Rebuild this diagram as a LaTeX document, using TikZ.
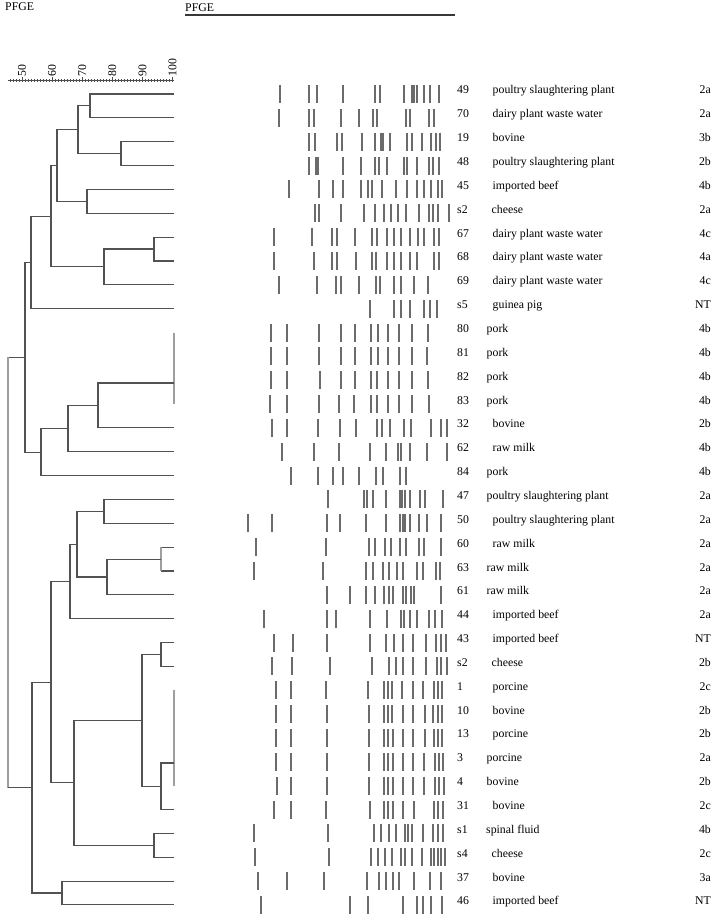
\documentclass[tikz,border=0pt]{standalone}
\usepackage{fontspec}
\setmainfont{Liberation Serif}
\begin{document}
\begin{tikzpicture}[x=1pt,y=-1pt,font=\fontsize{11.8}{13}\selectfont]
\tikzset{
  dline/.style={draw=black!68,line width=1.1pt},
  lline/.style={draw=black!38,line width=1.3pt},
  bandline/.style={draw=black!58,line width=1.7pt},
  lbl/.style={inner sep=0pt},
  tick/.style={draw=black!70,line width=0.6pt}
}
\useasboundingbox (0,0) rectangle (720,923);
% titles
\node[lbl,anchor=base west] (pfgeA) at (5,11) {PFGE};
\node[lbl,anchor=base west] (pfgeB) at (185,11.5) {PFGE};
\coordinate (barL) at (185,15.5);
\coordinate (barR) at (455,15.5);
\draw[line width=2pt,black!78] (barL) -- (barR);
% scale axis
\draw[tick,line width=0.9pt] (8,80.5) -- (174,80.5);
\foreach \s in {46,...,100} {
  \draw[tick] ({22+3.01*(\s-50)},79) -- ++(0,3);
}
\foreach \s in {50,60,...,100} {
  \draw[tick] ({22+3.01*(\s-50)},77.5) -- ++(0,4.5);
  \node[lbl,rotate=90,anchor=west] (ax\s) at ({22+3.01*(\s-50)},77) {\s};
}
% dendrogram
\draw[dline] (174,94) -- (90,94) -- (90,117.85) -- (174,117.85);
\draw[dline] (174,141.7) -- (121,141.7) -- (121,165.55) -- (174,165.55);
\draw[dline] (90,105.9) -- (78,105.9) -- (78,153.6) -- (121,153.6);
\draw[dline] (174,189.4) -- (87,189.4) -- (87,213.25) -- (174,213.25);
\draw[dline] (78,129.8) -- (57,129.8) -- (57,201.3) -- (87,201.3);
\draw[dline] (174,237.1) -- (154,237.1) -- (154,260.95) -- (174,260.95);
\draw[dline] (154,249) -- (104,249) -- (104,284.8) -- (174,284.8);
\draw[dline] (57,165.6) -- (51,165.6) -- (51,266.9) -- (104,266.9);
\draw[dline] (51,216.2) -- (31,216.2) -- (31,308.65) -- (174,308.65);
\draw[lline] (174,332.5) -- (174,404.05);
\draw[dline] (174,383) -- (98,383) -- (98,427.9) -- (174,427.9);
\draw[dline] (98,405.5) -- (68,405.5) -- (68,451.75) -- (174,451.75);
\draw[dline] (68,428.6) -- (41,428.6) -- (41,475.6) -- (174,475.6);
\draw[dline] (31,262.4) -- (25,262.4) -- (25,452.1) -- (41,452.1);
\draw[dline] (174,499.45) -- (104,499.45) -- (104,523.3) -- (174,523.3);
\draw[dline] (161,547.15) -- (174,547.15);
\draw[dline] (161,571) -- (174,571);
\draw[lline] (161,547.15) -- (161,571);
\draw[dline] (161,559.1) -- (107,559.1) -- (107,594.85) -- (174,594.85);
\draw[dline] (104,511.4) -- (77,511.4) -- (77,577) -- (107,577);
\draw[dline] (77,544.2) -- (70,544.2) -- (70,618.7) -- (174,618.7);
\draw[dline] (174,642.55) -- (161,642.55) -- (161,666.4) -- (174,666.4);
\draw[lline] (174,690.25) -- (174,785.65);
\draw[dline] (174,763) -- (161,763) -- (161,809.5) -- (174,809.5);
\draw[dline] (161,654.5) -- (142,654.5) -- (142,786.3) -- (161,786.3);
\draw[dline] (174,833.35) -- (154,833.35) -- (154,857.2) -- (174,857.2);
\draw[dline] (142,720.4) -- (74,720.4) -- (74,845.3) -- (154,845.3);
\draw[dline] (70,581.5) -- (51,581.5) -- (51,782.9) -- (74,782.9);
\draw[dline] (174,881.05) -- (62,881.05) -- (62,904.9) -- (174,904.9);
\draw[dline] (51,682.2) -- (32,682.2) -- (32,893) -- (62,893);
\draw[dline] (25,357.3) -- (8,357.3);
\draw[lline] (8,357.3) -- (8,787.6);
\draw[dline] (8,787.6) -- (32,787.6);
% bands
\foreach \r/\xs in {
 0/{280,308.7,317.3,342.7,375.3,380.3,404,412,414.3,416.7,424,430,439},
 1/{279,308.7,314.3,341,358.7,372.7,377,405.7,410.3,428.7,434},
 2/{309.3,314.7,337,342.3,362,375.3,380.7,383.3,390,407,412.3,421.7,431.3,435.7,440.3},
 3/{308.7,316,318.3,342.7,360.7,375,379.3,386.7,403.7,407.3,417,429,433.3,439.3},
 4/{288.7,319.3,333,342.7,360.7,367.7,372,381.7,395.7,406.7,416.7,424.3,431.3,438.3,442.3},
 5/{315.3,319.3,341,364.3,374.7,384,391,397.7,405.7,419.3,429,432.7,438,449.3},
 6/{274,312.3,332,337.3,355.3,371.7,376.7,387,394,401,410,417.7,424,434,438.7},
 7/{274,314.3,332,337.3,355.7,371.7,375.7,387.3,394,400.7,410.3,417.3,434,439},
 8/{279,317.3,336,341,359.3,375.7,380,394.3,400.7,414.3,427.7},
 9/{370.3,394.3,401,410,424,429.7,437.3},
 10/{271.3,287,319.3,341,355.3,371.3,378,388.3,398.7,411.7,427.7},
 11/{271.3,286.7,319.3,341,355.3,371.3,377.7,388.3,399.3,411.7,427},
 12/{271.3,286.7,320.3,341,355.3,371.3,377,387.7,399.3,411.7,428},
 13/{270,286.7,319.3,339,354.3,370.7,377,388.3,399.3,412,428.7},
 14/{272.3,287,318.3,340,356.3,376.7,382.3,390.3,404,410.7,431.3,441.3,447},
 15/{282.3,313.7,339.3,370,385.7,398.3,400.7,410,427.3,447},
 16/{290.7,318,332.7,343,359,375.7,382.7,400.3,406},
 17/{328.3,364.3,367.3,373.3,385.7,400,402.3,404.7,410,420,425.3,442.7},
 18/{248.3,272.3,327,340,366.3,385.7,400,402.7,405.3,410,419.3,427.3,441.3},
 19/{255.7,325.7,368.7,375,384.7,390.7,400.3,405.7,419,424.3,441.3},
 20/{254,322.7,365.7,372.7,383,388.7,396.7,403,416.7,423.3,436,440.3},
 21/{327,350.3,366.3,375.3,384.3,388.7,392.7,403,406.3,410.7,414.3,441.3},
 22/{264.3,326.7,336,370,387,400.7,404.3,410,417,429,435.3,442.3},
 23/{273.7,293,326.7,370.3,386.3,394,403.3,412.7,425.7,436,441,446.3},
 24/{272.3,292,330,372.3,388.7,395.7,403.3,413.3,425.7,436.7,441,447},
 25/{276,291.3,325.7,368.3,384,388.3,392.3,401.7,412.7,422.7,434,438.3,442.3},
 26/{275.7,291.3,327,368.7,384,388,392.3,402.7,413,424.7,433.3,437.7,442},
 27/{275.7,291.3,326.7,368.7,384,388.3,392.7,402.7,412.7,425,433.7,438,442.3},
 28/{275.7,291.3,327,368.7,384,388.3,392.7,402.7,412.7,424.3,434.7,439,443.3},
 29/{276.7,291.3,327,368.7,384,388.3,392.7,402.7,412.7,424.3,435,439.3,443.7},
 30/{274,291,325.7,369.7,384,388.3,392.7,402.7,413.7,434,438.3,442.7},
 31/{253.7,328.3,374,381.3,389,395.7,404.7,408.3,412,422.7,432.7,437.7,442.7},
 32/{255,329.3,371,378.3,385,391.7,401,405.3,411.7,422,431,434.3,437.7,441,445},
 33/{258,287,323.7,367.3,379.3,386,392.7,399,413.7,430,441.3},
 34/{261.3,349.7,368.3,402.7,417.3,423,431,441.7}} {
  \pgfmathsetmacro{\yy}{94+23.85*\r}
  \foreach \bx in \xs {
    \draw[bandline] (\bx,\yy-9) -- (\bx,\yy+9);
  }
}
% labels
\foreach \r/\n/\nm/\ty/\nx in {
 0/49/poultry slaughtering plant/2a/492.5,
 1/70/dairy plant waste water/2a/492.5,
 2/19/bovine/3b/492.5,
 3/48/poultry slaughtering plant/2b/492.5,
 4/45/imported beef/4b/492.5,
 5/s2/cheese/2a/491.5,
 6/67/dairy plant waste water/4c/492.5,
 7/68/dairy plant waste water/4a/492.5,
 8/69/dairy plant waste water/4c/492.5,
 9/s5/guinea pig/NT/492.5,
 10/80/pork/4b/486.5,
 11/81/pork/4b/486.5,
 12/82/pork/4b/486.5,
 13/83/pork/4b/486.5,
 14/32/bovine/2b/492.5,
 15/62/raw milk/4b/492.5,
 16/84/pork/4b/486.5,
 17/47/poultry slaughtering plant/2a/486.5,
 18/50/poultry slaughtering plant/2a/492.5,
 19/60/raw milk/2a/492.5,
 20/63/raw milk/2a/486.5,
 21/61/raw milk/2a/486.5,
 22/44/imported beef/2a/492.5,
 23/43/imported beef/NT/492.5,
 24/s2/cheese/2b/491.5,
 25/1/porcine/2c/492.5,
 26/10/bovine/2b/492.5,
 27/13/porcine/2b/492.5,
 28/3/porcine/2a/486.5,
 29/4/bovine/2b/486.5,
 30/31/bovine/2c/492.5,
 31/s1/spinal fluid/4b/486,
 32/s4/cheese/2c/491.5,
 33/37/bovine/3a/492.5,
 34/46/imported beef/NT/492.5} {
  \pgfmathsetmacro{\yy}{94+23.85*\r}
  \node[lbl,anchor=base west] (num\r) at (457,\yy) {\n};
  \node[lbl,anchor=base west] (name\r) at (\nx,\yy) {\nm};
  \node[lbl,anchor=base east] (type\r) at (711,\yy) {\ty};
}
\end{tikzpicture}
\end{document}
